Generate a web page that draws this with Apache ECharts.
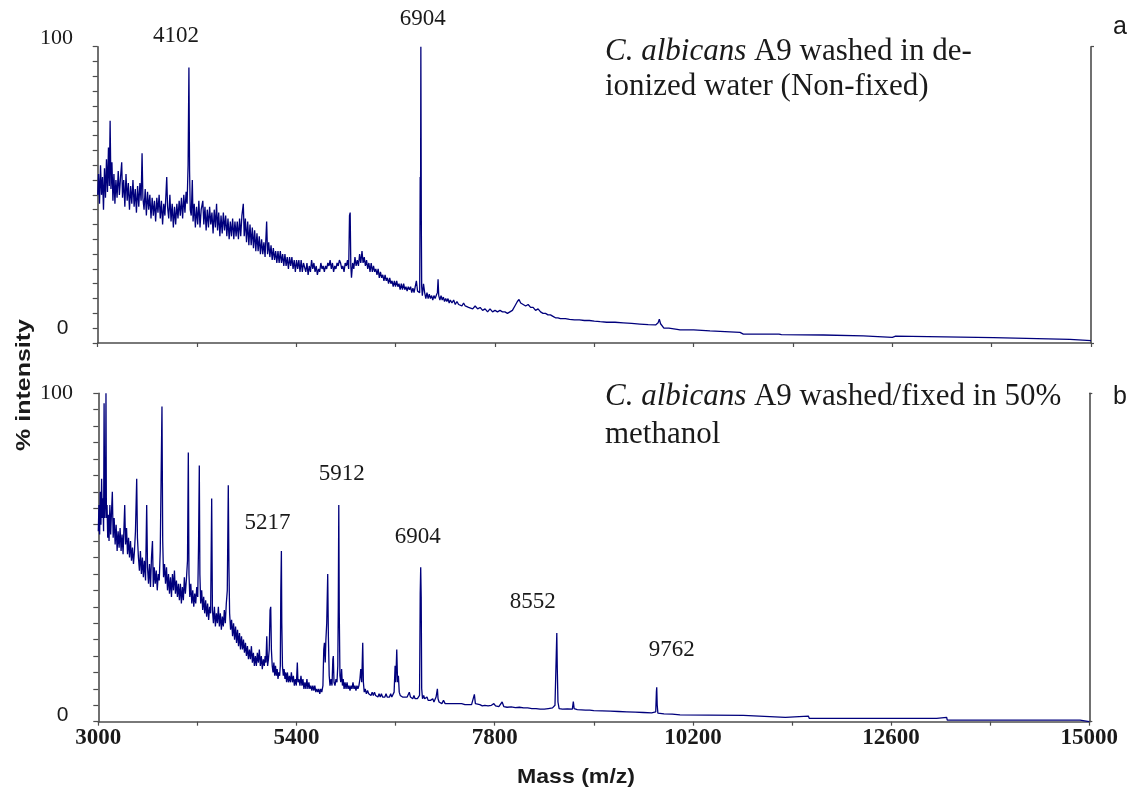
<!DOCTYPE html>
<html>
<head>
<meta charset="utf-8">
<script src="https://cdn.jsdelivr.net/npm/echarts@6/dist/echarts.min.js"></script>
<style>
html,body{margin:0;padding:0;background:#fff;}
#c{width:1132px;height:793px;}
</style>
</head>
<body>
<div id="c"></div>
<script>
// ---- Data (mass m/z, % intensity) ----
const spectrumA = [
[3000,50],[3010,57],[3022,47],[3034,60],[3046,50],[3058,56],[3070,45],[3082,59],[3094,49],[3106,62],[3118,51],[3130,66],[3140,53],[3150,75],[3160,52],[3172,61],[3184,48],[3196,57],[3208,47],[3220,55],[3234,49],[3248,58],[3262,50],[3276,56],[3290,61],[3300,49],[3314,55],[3328,46],[3342,57],[3356,48],[3370,54],[3384,45],[3398,53],[3412,47],[3426,55],[3440,46],[3454,52],[3468,44],[3482,53],[3496,46],[3510,54],[3524,48],[3536,64],[3546,49],[3560,45],[3574,52],[3588,43],[3602,51],[3616,45],[3630,50],[3644,42],[3658,49],[3672,43],[3686,48],[3700,41],[3714,49],[3728,44],[3742,50],[3756,42],[3770,48],[3784,40],[3798,47],[3812,43],[3826,51],[3834,56],[3844,46],[3858,42],[3872,50],[3886,41],[3900,47],[3914,39],[3928,46],[3942,40],[3956,47],[3970,42],[3984,48],[3998,43],[4012,49],[4026,42],[4040,50],[4054,44],[4068,51],[4080,47],[4092,60],[4102,93],[4110,58],[4118,45],[4130,43],[4143,55],[4152,41],[4166,47],[4180,39],[4194,46],[4208,40],[4222,48],[4236,39],[4250,45],[4270,48],[4282,40],[4296,46],[4310,38],[4324,45],[4338,39],[4352,46],[4366,40],[4380,44],[4394,37],[4408,45],[4422,39],[4436,47],[4448,38],[4462,44],[4476,36],[4490,43],[4504,37],[4518,44],[4532,38],[4546,43],[4560,36],[4574,42],[4588,35],[4602,41],[4616,36],[4630,42],[4644,35],[4658,41],[4672,36],[4686,41],[4700,35],[4714,42],[4728,36],[4742,43],[4759,47],[4770,36],[4784,42],[4798,34],[4812,41],[4826,33],[4840,40],[4854,33],[4868,39],[4882,32],[4896,38],[4910,31],[4924,37],[4938,31],[4952,36],[4966,30],[4980,35],[4994,30],[5008,34],[5022,29],[5041,41],[5052,30],[5066,34],[5080,29],[5094,33],[5108,28],[5122,32],[5136,28],[5150,31],[5164,27],[5178,31],[5192,27],[5206,31],[5220,27],[5234,30],[5248,26],[5262,30],[5276,26],[5290,29],[5304,25],[5318,29],[5332,26],[5346,29],[5360,25],[5374,28],[5388,24],[5402,28],[5416,25],[5430,28],[5444,24],[5458,28],[5472,24],[5486,27],[5500,27],[5514,24],[5528,27],[5542,23],[5556,26],[5570,24],[5584,28],[5598,25],[5612,27],[5626,24],[5640,26],[5654,23],[5668,25],[5682,24],[5696,27],[5710,25],[5724,26],[5738,24],[5752,26],[5766,25],[5780,27],[5794,26],[5808,28],[5822,25],[5836,27],[5850,24],[5864,26],[5878,25],[5892,27],[5906,26],[5920,28],[5934,27],[5948,25],[5962,26],[5976,24],[5990,27],[6004,26],[6018,28],[6032,25],[6042,43],[6050,44],[6058,26],[6066,22],[6080,27],[6094,25],[6108,29],[6122,26],[6136,28],[6150,26],[6164,30],[6178,27],[6193,31],[6206,27],[6220,29],[6234,26],[6248,28],[6262,25],[6276,27],[6290,24],[6304,27],[6318,24],[6332,26],[6346,24],[6360,25],[6374,23],[6388,25],[6402,22],[6416,24],[6430,22],[6444,23],[6458,21],[6472,23],[6486,21],[6500,22],[6514,20],[6528,22],[6542,20],[6556,21],[6570,19],[6584,21],[6598,19],[6612,21],[6626,19],[6640,20],[6654,18],[6668,20],[6682,18],[6696,20],[6710,18],[6724,19],[6738,17.5],[6752,19],[6766,18],[6780,19],[6794,17],[6808,18.5],[6822,17],[6836,19],[6850,21],[6864,17.5],[6880,18],[6890,17],[6896,56],[6900,40],[6904,100],[6910,38],[6914,19],[6922,16],[6936,20],[6950,17],[6964,15],[6978,17],[6992,15],[7006,16.5],[7020,15],[7034,16],[7048,14.5],[7062,16],[7076,15],[7090,16],[7104,17],[7112,21.5],[7120,16],[7134,14.5],[7148,16],[7162,14.5],[7176,15.5],[7190,14],[7204,15],[7218,14],[7232,15],[7246,13.5],[7260,14.5],[7280,13.5],[7300,14.5],[7320,13],[7340,14],[7360,13],[7380,13.5],[7400,12.5],[7420,13.5],[7440,12.5],[7460,13],[7480,12],[7500,12.5],[7530,11.5],[7560,12.5],[7590,11.5],[7620,12],[7650,11],[7680,11.5],[7710,10.5],[7740,11.5],[7770,10.5],[7800,11],[7830,10.5],[7860,11],[7890,10.5],[7920,10.5],[7950,10],[7980,10.5],[8010,11],[8040,12.5],[8070,14],[8090,14.7],[8110,13.5],[8140,13],[8170,12.5],[8200,13],[8230,12],[8260,12],[8290,11],[8320,11.5],[8350,10.5],[8380,10],[8410,10],[8440,9.5],[8470,9.5],[8500,9],[8530,8.5],[8560,8.5],[8590,8.2],[8650,8.2],[8700,8],[8760,7.8],[8820,7.8],[8880,7.6],[8940,7.6],[9000,7.4],[9070,7.2],[9150,7],[9250,7],[9350,6.8],[9450,6.6],[9550,6.4],[9650,6.2],[9740,6.1],[9770,6.8],[9785,8],[9800,6.5],[9815,6.3],[9840,5],[9900,5],[10000,4.6],[10035,4.4],[10200,4.4],[10397,4.1],[10420,3.8],[10760,3.6],[10800,3.0],[11230,3.0],[11243,3.5],[11260,2.8],[11766,2.7],[11780,2.4],[12249,2.4],[12260,1.9],[12600,1.9],[12612,2.3],[12640,2.3],[12660,1.8],[13820,1.8],[13830,1.2],[14746,1.2],[14760,0.8],[15000,0.8]
];

const spectrumB = [
[3000,58],[3008,66],[3016,57],[3024,70],[3032,60],[3040,74],[3048,62],[3056,68],[3064,58],[3070,97],[3078,62],[3088,70],[3093,100],[3098,62],[3106,66],[3114,56],[3122,63],[3130,55],[3140,66],[3150,57],[3160,64],[3170,70],[3180,56],[3192,62],[3204,54],[3216,60],[3228,52],[3240,58],[3252,53],[3264,59],[3276,52],[3288,57],[3300,51],[3312,60],[3320,66],[3330,54],[3342,59],[3354,51],[3366,56],[3378,50],[3390,55],[3402,49],[3414,53],[3426,48],[3438,52],[3450,58],[3465,74],[3474,56],[3486,50],[3498,46],[3510,52],[3522,45],[3534,50],[3546,44],[3558,49],[3572,43],[3586,66],[3596,47],[3608,42],[3620,48],[3632,41],[3644,50],[3656,55],[3666,41],[3678,47],[3690,42],[3702,46],[3714,40],[3726,45],[3738,43],[3750,52],[3760,73],[3771,96],[3780,55],[3790,44],[3802,48],[3814,42],[3826,47],[3838,40],[3850,45],[3862,39],[3874,44],[3886,38],[3898,45],[3910,40],[3922,46],[3934,39],[3946,43],[3958,38],[3970,42],[3982,37],[3994,42],[4006,36],[4018,41],[4030,37],[4042,44],[4054,39],[4066,43],[4080,49],[4090,82],[4098,45],[4108,38],[4120,42],[4132,36],[4144,40],[4156,35],[4168,39],[4180,36],[4192,41],[4204,38],[4214,54],[4223,78],[4230,45],[4240,36],[4252,40],[4264,34],[4276,38],[4288,33],[4300,37],[4312,32],[4324,36],[4336,31],[4348,35],[4360,33],[4373,68],[4382,34],[4394,30],[4406,35],[4418,29],[4430,33],[4442,30],[4454,35],[4466,29],[4478,33],[4490,28],[4502,32],[4514,29],[4526,34],[4538,30],[4550,36],[4562,40],[4574,72],[4582,47],[4590,33],[4602,28],[4614,31],[4626,26],[4638,30],[4650,25],[4662,29],[4674,24],[4686,28],[4698,23],[4710,27],[4722,22],[4734,26],[4746,22],[4758,25],[4770,21],[4782,24],[4794,20],[4806,23],[4818,19],[4830,22],[4842,19],[4854,23],[4866,18],[4878,21],[4890,17],[4902,20],[4914,17],[4926,21],[4938,18],[4950,22],[4962,17],[4974,20],[4986,16],[4998,19],[5010,17],[5020,20],[5030,18],[5040,26],[5050,17],[5060,19],[5070,22],[5080,34],[5088,35],[5096,22],[5106,17],[5116,15],[5126,18],[5136,14],[5146,17],[5156,14],[5166,16],[5176,13],[5186,15],[5196,14],[5204,17],[5210,40],[5217,52],[5222,30],[5230,17],[5240,14],[5250,16],[5260,13],[5270,15],[5280,12],[5290,15],[5302,12],[5314,14],[5326,12],[5338,15],[5350,12],[5362,14],[5374,11],[5386,13],[5398,11],[5410,18],[5418,12],[5430,13],[5442,11],[5454,14],[5466,11],[5478,13],[5490,10],[5502,12],[5514,10],[5526,13],[5538,10],[5550,12],[5562,10],[5574,11],[5586,9.5],[5598,11],[5610,9.5],[5622,11],[5634,9],[5646,10],[5658,9],[5670,10],[5682,8.5],[5694,10],[5706,9],[5720,11],[5730,22],[5738,24],[5748,18],[5756,25],[5766,30],[5778,45],[5786,26],[5796,14],[5806,11],[5818,13],[5830,11],[5840,19],[5846,20],[5854,12],[5866,11],[5878,13],[5890,12],[5900,17],[5906,35],[5912,66],[5918,33],[5926,14],[5936,12],[5946,16],[5956,11],[5966,13],[5976,10],[5988,12],[6000,10],[6012,12],[6024,10],[6036,11],[6048,9.5],[6060,11],[6072,10],[6084,12],[6096,10],[6108,11],[6120,9.5],[6132,11],[6144,10],[6156,11],[6168,13],[6178,16],[6190,12],[6202,24],[6210,12],[6220,9],[6232,10],[6246,8.5],[6260,9.5],[6274,8.5],[6288,9],[6302,8],[6316,9],[6330,8],[6344,9],[6358,8],[6372,8.5],[6386,7.5],[6400,8.5],[6414,7.5],[6428,8.5],[6442,7.5],[6456,8],[6470,7.5],[6484,8.5],[6498,7.5],[6512,8],[6526,7.5],[6540,8.5],[6554,7.5],[6568,8],[6582,9],[6594,17],[6602,12],[6614,22],[6624,12],[6634,14],[6644,9],[6656,8],[6670,8.5],[6684,7.5],[6698,8],[6712,7.5],[6726,8],[6740,7.5],[6754,8],[6766,9],[6780,7.5],[6794,8],[6808,7],[6822,8],[6836,7],[6850,7.5],[6864,7],[6878,7.5],[6890,8],[6898,39],[6904,47],[6910,38],[6916,10],[6926,7],[6940,8],[6952,7],[6966,6.5],[6980,7.5],[6994,6.5],[7008,7],[7022,6.5],[7036,6],[7050,7],[7064,6],[7078,6.5],[7090,7.5],[7098,8],[7106,10],[7114,7],[7126,6],[7140,6.5],[7160,5.5],[7180,6.5],[7200,5.5],[7220,6],[7240,5.5],[7260,6],[7280,5.5],[7300,6],[7320,5.5],[7340,6],[7360,5.5],[7380,6],[7400,5.5],[7420,5.8],[7440,5.2],[7460,5.8],[7480,5.2],[7500,5.6],[7520,5.2],[7540,5.6],[7554,8.3],[7566,5.5],[7590,5],[7620,5.2],[7650,4.8],[7680,5],[7720,4.8],[7760,5],[7790,5.5],[7810,4.8],[7850,4.6],[7890,6],[7910,4.6],[7950,4.4],[8000,4.5],[8050,4.3],[8100,4.4],[8150,4.2],[8200,4.2],[8250,4],[8300,4],[8350,3.8],[8400,3.8],[8450,4],[8500,4.2],[8530,5],[8545,20],[8552,27],[8558,16],[8566,6],[8580,4],[8620,3.8],[8680,3.9],[8740,3.8],[8752,6.1],[8762,4],[8800,3.7],[8850,3.6],[8900,3.5],[8950,3.5],[9000,3.4],[9100,3.3],[9200,3.2],[9300,3.1],[9400,3.0],[9500,2.9],[9600,2.8],[9700,2.7],[9750,3],[9758,9],[9762,10.5],[9768,5],[9776,2.6],[9850,2.4],[9950,2.3],[10044,2.1],[10400,2.0],[10811,1.9],[10820,1.3],[11320,1.3],[11336,1.7],[11598,1.7],[11610,1.0],[12660,1.0],[12668,0.8],[12700,1.0],[13152,1.0],[13160,1.3],[13273,1.3],[13280,0.5],[14888,0.5],[14900,0.0],[15000,0.0]
];

const peakMassA = [4102, 6904];
const peakIntA = [93, 100];
const peakLabelA = ['4102', '6904'];

const peakMassB = [5217, 5912, 6904, 8552, 9762];
const peakIntB = [52, 66, 47, 27, 10.5];
const peakLabelB = ['5217', '5912', '6904', '8552', '9762'];

const xTickLabels = [3000, 5400, 7800, 10200, 12600, 15000];
const yTickLabels = ['0', '100'];
const panelLetters = ['a', 'b'];
const titleA = ['{i|C. albicans} A9 washed in de-', 'ionized water (Non-fixed)'];
const titleB = ['{i|C. albicans} A9 washed/fixed in 50%', 'methanol'];
const xAxisName = 'Mass (m/z)';
const yAxisName = '% intensity';

// ---- Chart ----
const chart = echarts.init(document.getElementById('c'), null, {renderer: 'canvas'});
const axisColor = '#4d4d4d';
const lineColor = '#00007c';
const textColor = '#1a1a1a';
const serif = "'Liberation Serif', 'Times New Roman', serif";
const sans = "'Liberation Sans', Arial, sans-serif";

const grids = [
  {left: 97.7, top: 46.7, width: 993.3, height: 296.3},
  {left: 98.3, top: 393.3, width: 991, height: 328.4}
];

const xAxes = [0, 1].map(i => ({
  type: 'value', gridIndex: i, min: 3000, max: 15000, interval: 1200,
  axisLine: {show: true, onZero: false, lineStyle: {color: axisColor, width: 1.6}},
  axisTick: {show: true, length: 4, lineStyle: {color: axisColor, width: 1.2}},
  axisLabel: {
    show: i === 1, margin: 5,
    formatter: v => (xTickLabels.indexOf(v) >= 0 ? String(v) : ''),
    fontFamily: serif, fontWeight: 'bold', fontSize: 23, color: textColor,
    showMinLabel: true, showMaxLabel: true
  },
  splitLine: {show: false}
}));

const yAxes = [];
[0, 1].forEach(i => {
  yAxes.push({
    type: 'value', gridIndex: i, min: 0, max: 100, interval: 5, position: 'left',
    axisLine: {show: true, onZero: false, lineStyle: {color: axisColor, width: 1.6}},
    axisTick: {show: true, length: 5, lineStyle: {color: axisColor, width: 1.2}},
    axisLabel: {show: false}, splitLine: {show: false}
  });
  yAxes.push({
    type: 'value', gridIndex: i, min: 0, max: 100, interval: 100, position: 'right',
    axisLine: {show: true, onZero: false, lineStyle: {color: axisColor, width: 1.6}},
    axisTick: {show: true, length: 3, lineStyle: {color: axisColor, width: 1.2}},
    axisLabel: {show: false}, splitLine: {show: false}
  });
});

function markPts(masses, ints, labels, offsets) {
  return {
    symbol: 'circle', symbolSize: 0, silent: true, animation: false,
    label: {show: true, position: 'inside', formatter: '{b}', fontFamily: serif, fontSize: 23, color: textColor},
    data: masses.map((m, k) => ({coord: [m, ints[k]], name: labels[k], label: {offset: offsets[k]}}))
  };
}

const series = [
  {
    type: 'line', xAxisIndex: 0, yAxisIndex: 0, data: spectrumA,
    showSymbol: false, symbol: 'none', sampling: null, animation: false,
    lineStyle: {color: lineColor, width: 1.3},
    markPoint: markPts(peakMassA, peakIntA, peakLabelA, [[-13, -31], [2, -28]])
  },
  {
    type: 'line', xAxisIndex: 1, yAxisIndex: 2, data: spectrumB,
    showSymbol: false, symbol: 'none', sampling: null, animation: false,
    lineStyle: {color: lineColor, width: 1.3},
    markPoint: markPts(peakMassB, peakIntB, peakLabelB, [[-14, -28], [3, -31], [-3, -30], [-24, -31], [15, -37]])
  }
];

function txt(x, y, text, opts) {
  const st = Object.assign({
    text: text, fill: textColor, align: 'center', verticalAlign: 'middle',
    textAlign: 'center', textVerticalAlign: 'middle'
  }, opts.style || {});
  return Object.assign({type: 'text', x: x, y: y, silent: true, style: st}, opts.el || {});
}

const richI = {i: {fontStyle: 'italic', fontFamily: serif, fontSize: 31, fill: textColor}};
const titleStyle = {fontFamily: serif, fontSize: 31, align: 'left', textAlign: 'left', rich: richI};

const graphics = [
  // y tick labels
  txt(56.5, 38, yTickLabels[1], {style: {fontFamily: serif, fontSize: 22}}),
  txt(62.5, 328, yTickLabels[0], {style: {fontFamily: sans, fontSize: 21}}),
  txt(56.5, 393, yTickLabels[1], {style: {fontFamily: serif, fontSize: 22}}),
  txt(62.5, 715, yTickLabels[0], {style: {fontFamily: sans, fontSize: 21}}),
  // panel letters
  txt(1120, 27, panelLetters[0], {style: {fontFamily: sans, fontSize: 25}}),
  txt(1120, 397, panelLetters[1], {style: {fontFamily: sans, fontSize: 25}}),
  // annotations
  txt(605, 52, titleA[0], {style: titleStyle}),
  txt(605, 87, titleA[1], {style: titleStyle}),
  txt(605, 397, titleB[0], {style: titleStyle}),
  txt(605, 435, titleB[1], {style: titleStyle}),
  // axis names
  txt(576, 777, xAxisName, {style: {fontFamily: sans, fontSize: 21, fontWeight: 'bold'}, el: {scaleX: 1.1}}),
  txt(24, 385, yAxisName, {style: {fontFamily: sans, fontSize: 20, fontWeight: 'bold'}, el: {rotation: Math.PI / 2, scaleX: 1.25}})
];

chart.setOption({
  animation: false,
  backgroundColor: '#ffffff',
  grid: grids,
  xAxis: xAxes,
  yAxis: yAxes,
  series: series,
  graphic: graphics
});
</script>
</body>
</html>
